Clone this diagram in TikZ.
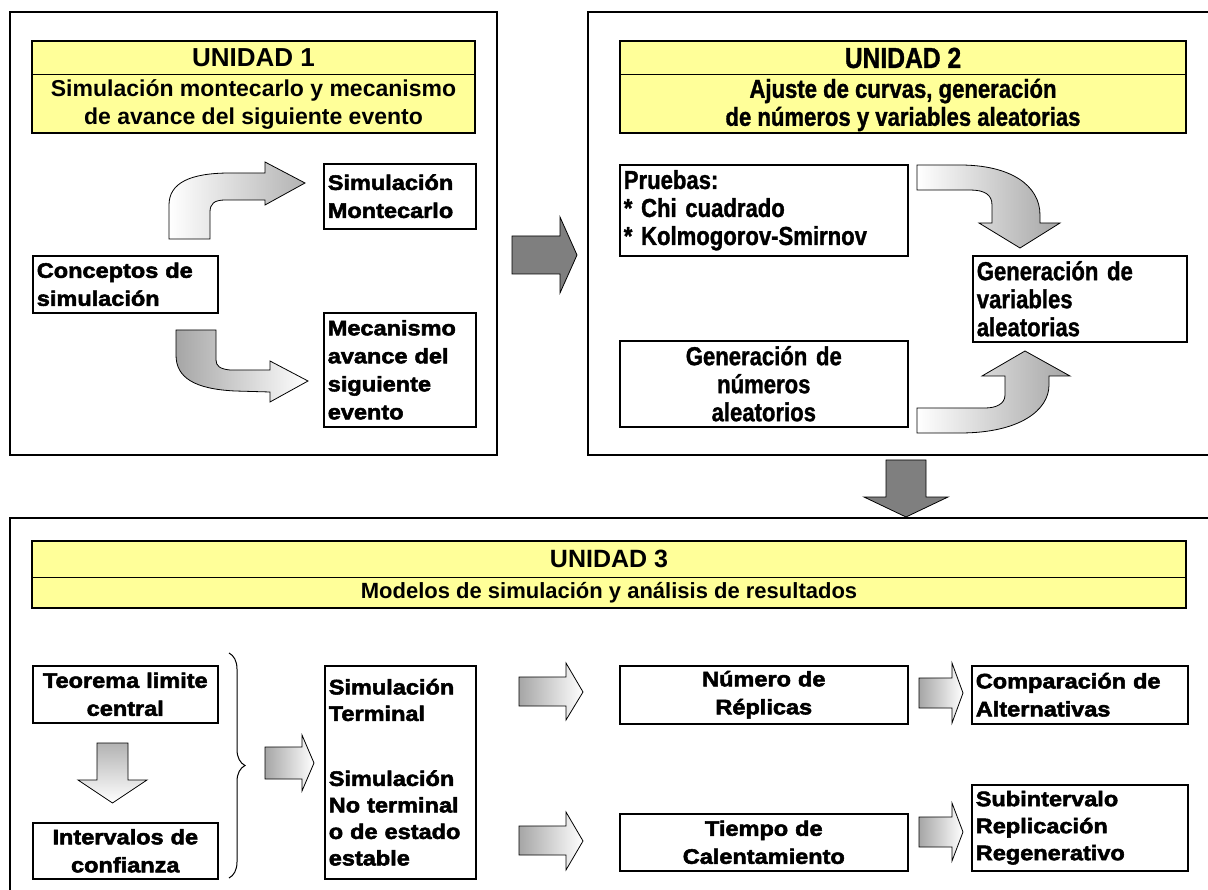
\documentclass[tikz,border=0pt]{standalone}
\usepackage{fontspec}
\setmainfont{Liberation Sans}
\newfontfamily\boxfont[FakeBold=2.5,FakeStretch=1.12]{Liberation Sans}
\newfontfamily\narrowfont[FakeBold=1.2,FakeStretch=0.85]{Liberation Sans}
\usetikzlibrary{decorations.pathreplacing}

\definecolor{hdryellow}{HTML}{FFFF99}
\definecolor{arrowgray}{HTML}{7F7F7F}

\tikzset{
  unitframe/.style={draw, line width=2pt},
  hdr/.style={draw, line width=2pt, fill=hdryellow},
  hdrtitle/.style={font=\bfseries\fontsize{26}{30}\selectfont, inner sep=0pt},
  hdrsub/.style={font=\bfseries\fontsize{23}{28}\selectfont, align=center, inner sep=0pt},
  txtbox/.style={draw, line width=1.6pt, anchor=north west, inner xsep=4pt, inner ysep=0pt,
    align=left, font=\boxfont\bfseries\fontsize{21}{28}\selectfont},
  narrowbox/.style={txtbox, font=\narrowfont\bfseries\fontsize{26}{28}\selectfont},
  bigarrow/.style={draw, line width=0.8pt, fill=arrowgray},
  shadearrow/.style={draw, line width=0.8pt, left color=gray!70, right color=white},
}

\begin{document}
\begin{tikzpicture}[x=1pt, y=-1pt]
  \useasboundingbox (0,0) rectangle (1208,890);
  % Unidad 1
  \draw [unitframe] (10,12) rectangle (497,455);
  \draw [hdr] (32,41) rectangle (475,133);
  \draw [line width=1pt] (32,75) -- (475,75);
  \node [hdrtitle] (u1title) at (253.5,58) {UNIDAD 1};
  \node [hdrsub] (u1sub) at (253.5,105) {Simulación montecarlo y mecanismo\\de avance del siguiente evento};
  \node [txtbox, text width=177pt, minimum height=57pt] (concepts) at (32,255) {Conceptos de\\simulación};
  \node [txtbox, text width=144pt, minimum height=65pt] (montecarlo) at (323,163) {Simulación\\Montecarlo};
  \node [txtbox, text width=144pt, minimum height=114pt] (mecanismo) at (323,312) {Mecanismo\\avance del\\siguiente\\evento};
  \draw [shadearrow, left color=white, right color=gray!60]
    (169,239) -- (169,205) .. controls (169,183) and (190,173) .. (230,173) -- (265,173)
    -- (265,162) -- (305,183) -- (265,205) -- (265,200) -- (225,200)
    .. controls (214,200) and (210,204) .. (210,212) -- (210,239) -- cycle;
  \draw [shadearrow]
    (176,330) -- (216,330) -- (216,360) .. controls (216,366) and (220,369) .. (230,370) -- (270,370)
    -- (270,361) -- (308,381) -- (270,402) -- (270,392) -- (235,391)
    .. controls (195,389) and (176,378) .. (176,355) -- cycle;
  % Unidad 1 -> Unidad 2
  \draw [bigarrow] (512,236) -- (560,236) -- (560,217) -- (577,255) -- (560,293) -- (560,274) -- (512,274) -- cycle;
  % Unidad 2
  \draw [unitframe] (588,12) rectangle (1215,455);
  \draw [hdr] (620,41) rectangle (1186,133);
  \draw [line width=1pt] (620,75) -- (1186,75);
  \node [hdrtitle, font=\narrowfont\bfseries\fontsize{29}{30}\selectfont] (u2title) at (903,58) {UNIDAD 2};
  \node [hdrsub, font=\narrowfont\bfseries\fontsize{26}{28}\selectfont] (u2sub) at (903,105) {Ajuste de curvas, generación\\de números y variables aleatorias};
  \node [narrowbox, text width=280pt, minimum height=91pt] (pruebas) at (619,164) {Pruebas:\\{}* Chi cuadrado\\{}* Kolmogorov-Smirnov};
  \node [narrowbox, text width=206pt, minimum height=86pt] (genvar) at (972,255) {Generación de\\variables\\aleatorias};
  \node [narrowbox, text width=280pt, minimum height=86pt, align=center] (gennum) at (619,340) {Generación de\\números\\aleatorios};
  \draw [shadearrow, left color=white, right color=gray!70]
    (917,165) -- (960,165) .. controls (1010,165) and (1040,185) .. (1040,215) -- (1040,223)
    -- (1060,223) -- (1020,248) -- (979,223) -- (992,223) -- (992,205)
    .. controls (992,195) and (985,190) .. (970,190) -- (917,190) -- cycle;
  \draw [shadearrow, left color=white, right color=gray!70]
    (917,433) -- (960,433) .. controls (1020,433) and (1049,410) .. (1049,385) -- (1049,376)
    -- (1070,376) -- (1025,351) -- (982,376) -- (1005,376) -- (1005,395)
    .. controls (1005,404) and (996,408) .. (985,408) -- (917,408) -- cycle;
  % Unidad 2 -> Unidad 3
  \draw [bigarrow] (886,460) -- (926,460) -- (926,497) -- (948,497) -- (906,517) -- (864,497) -- (886,497) -- cycle;
  % Unidad 3
  \draw [unitframe] (10,518) rectangle (1215,900);
  \draw [hdr] (32,541) rectangle (1186,608);
  \draw [line width=1pt] (32,577) -- (1186,577);
  \node [hdrtitle, font=\bfseries\fontsize{25}{28}\selectfont] (u3title) at (609,559) {UNIDAD 3};
  \node [hdrsub, font=\bfseries\fontsize{22}{26}\selectfont] (u3sub) at (609,593) {Modelos de simulación y análisis de resultados};
  \node [txtbox, text width=177pt, minimum height=57pt, align=center] (teorema) at (32,665) {Teorema limite\\central};
  \node [txtbox, text width=177pt, minimum height=56pt, align=center] (intervalos) at (32,822) {Intervalos de\\confianza};
  \draw [shadearrow, left color=white, right color=white, top color=gray!60, bottom color=white]
    (97,743) -- (128,743) -- (128,780) -- (147,780) -- (112.5,803) -- (78,780) -- (97,780) -- cycle;
  \draw [line width=1pt, decorate, decoration={brace, amplitude=16pt}] (229,653) -- (229,878);
  \draw [shadearrow] (265,747) -- (302,747) -- (302,735) -- (314,763) -- (302,791) -- (302,779) -- (265,779) -- cycle;
  \node [txtbox, text width=143pt, minimum height=213pt, font=\boxfont\bfseries\fontsize{21}{26.5}\selectfont] (simul) at (324,665)
    {Simulación\\Terminal\\[38.5pt]Simulación\\No terminal\\o de estado\\estable};
  \draw [shadearrow] (519,677) -- (566,677) -- (566,663) -- (583,692) -- (566,720) -- (566,706) -- (519,706) -- cycle;
  \draw [shadearrow] (519,826) -- (566,826) -- (566,812) -- (583,841) -- (566,870) -- (566,855) -- (519,855) -- cycle;
  \node [txtbox, text width=280pt, minimum height=58pt, align=center] (replicas) at (619,665) {Número de\\Réplicas};
  \node [txtbox, text width=280pt, minimum height=57pt, align=center] (calentamiento) at (619,813) {Tiempo de\\Calentamiento};
  \draw [shadearrow] (919,678) -- (952,678) -- (952,663) -- (963,693) -- (952,723) -- (952,708) -- (919,708) -- cycle;
  \draw [shadearrow] (919,817) -- (952,817) -- (952,803) -- (963,832) -- (952,861) -- (952,847) -- (919,847) -- cycle;
  \node [txtbox, text width=208pt, minimum height=58pt] (comparacion) at (971,665) {Comparación de\\Alternativas};
  \node [txtbox, text width=208pt, minimum height=86pt, font=\boxfont\bfseries\fontsize{21}{27}\selectfont] (subint) at (971,784)
    {Subintervalo\\Replicación\\Regenerativo};
\end{tikzpicture}
\end{document}
